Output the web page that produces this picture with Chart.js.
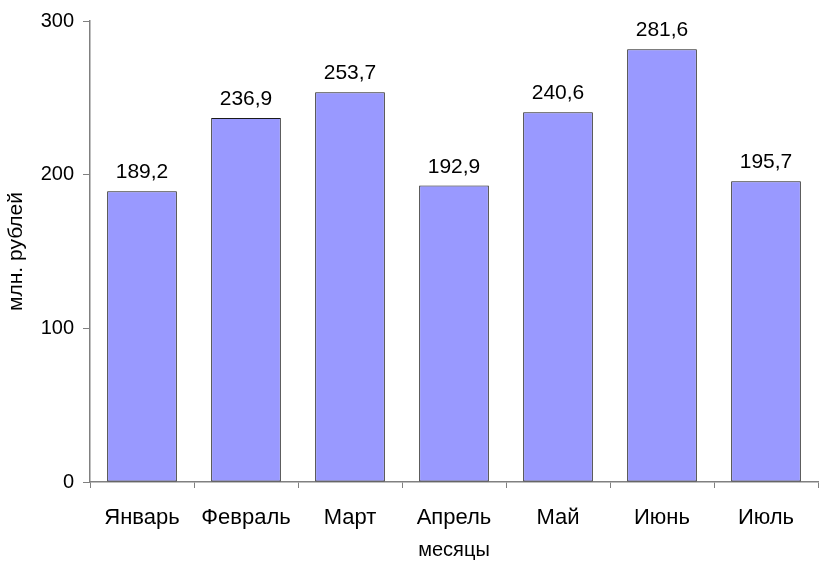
<!DOCTYPE html>
<html>
<head>
<meta charset="utf-8">
<script src="https://cdn.jsdelivr.net/npm/chart.js@4/dist/chart.umd.min.js"></script>
<style>
  html, body { margin: 0; padding: 0; background: #ffffff; }
  #wrap { width: 819px; height: 562px; position: relative; }
</style>
</head>
<body>
<div id="wrap"><canvas id="c" width="819" height="562"></canvas></div>
<script>
const categories = ["Январь", "Февраль", "Март", "Апрель", "Май", "Июнь", "Июль"];
const values = [189.2, 236.9, 253.7, 192.9, 240.6, 281.6, 195.7];
const yTicks = [0, 100, 200, 300];
const xTitle = "месяцы";
const yTitle = "млн. рублей";

const FONT = "'Liberation Sans', Arial, sans-serif";

const valueLabels = {
  id: 'valueLabels',
  afterDatasetsDraw(chart) {
    const ctx = chart.ctx;
    const meta = chart.getDatasetMeta(0);
    ctx.save();
    ctx.font = "21px " + FONT;
    ctx.fillStyle = "#000000";
    ctx.textAlign = "center";
    ctx.textBaseline = "alphabetic";
    meta.data.forEach((bar, i) => {
      const txt = values[i].toFixed(1).replace('.', ',');
      ctx.fillText(txt, bar.x, bar.y - 13);
    });
    ctx.restore();
  }
};

new Chart(document.getElementById('c'), {
  type: 'bar',
  data: {
    labels: categories,
    datasets: [{
      data: values,
      backgroundColor: '#9999ff',
      borderColor: '#1a1a1a',
      borderWidth: 1,
      borderSkipped: false,
      barPercentage: 0.67,
      categoryPercentage: 1.0
    }]
  },
  options: {
    responsive: false,
    animation: false,
    devicePixelRatio: 1,
    layout: { padding: { top: 20, right: 1, left: 0, bottom: 0 } },
    plugins: {
      legend: { display: false },
      tooltip: { enabled: false }
    },
    scales: {
      x: {
        offset: true,
        grid: {
          display: true,
          offset: true,
          drawOnChartArea: false,
          drawTicks: true,
          tickLength: 6,
          color: '#808080'
        },
        border: { display: true, color: '#808080', width: 1.5 },
        ticks: {
          color: '#000000',
          font: { family: FONT, size: 22 },
          padding: 17,
          maxRotation: 0,
          autoSkip: false
        },
        title: {
          display: true,
          text: xTitle,
          color: '#000000',
          font: { family: FONT, size: 20 },
          padding: { top: 0, bottom: 0 }
        },
        afterFit(scale) { scale.height = 80; }
      },
      y: {
        min: 0,
        max: 300,
        afterBuildTicks(scale) { scale.ticks = yTicks.map(v => ({ value: v })); },
        grid: {
          display: true,
          drawOnChartArea: false,
          drawTicks: true,
          tickLength: 7,
          color: '#808080'
        },
        border: { display: true, color: '#808080', width: 1.5 },
        ticks: {
          color: '#000000',
          font: { family: FONT, size: 20 },
          padding: 9
        },
        title: {
          display: true,
          text: yTitle,
          color: '#000000',
          font: { family: FONT, size: 21 },
          padding: { top: 4, bottom: 0 }
        },
        afterFit(scale) { scale.width = 90; }
      }
    }
  },
  plugins: [valueLabels]
});
</script>
</body>
</html>
